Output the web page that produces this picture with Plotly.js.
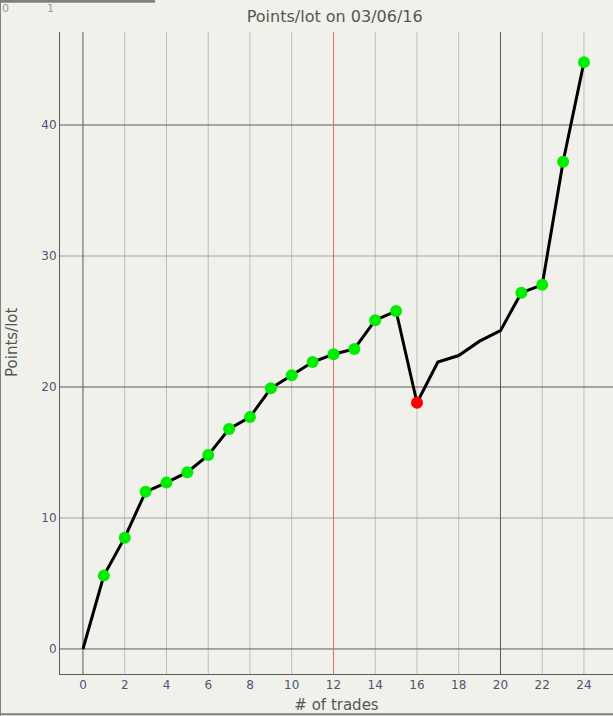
<!DOCTYPE html>
<html>
<head>
<meta charset="utf-8">
<script src="https://cdn.plot.ly/plotly-3.0.1.min.js"></script>
<style>html,body{margin:0;padding:0;background:#f1f1ec;}#chart{width:613px;height:716px;}</style>
</head>
<body>
<div id="chart"></div>
<script>
// Data
const trades = [0,1,2,3,4,5,6,7,8,9,10,11,12,13,14,15,16,17,18,19,20,21,22,23,24];
const pointsPerLot = [0,5.6,8.5,12.0,12.7,13.5,14.8,16.8,17.7,19.9,20.9,21.9,22.5,22.9,25.1,25.8,18.8,21.9,22.4,23.5,24.3,27.2,27.8,37.2,44.8];
// marker class per trade: "up", "down" or "" (no marker)
const markerKind = ["","up","up","up","up","up","up","up","up","up","up","up","up","up","up","up","down","","","","","up","up","up","up"];
const xTicks = [0,2,4,6,8,10,12,14,16,18,20,22,24];
const yTicks = [0,10,20,30,40];
const majorX = [0,20];
const majorY = [0,20,40];
const markerLineX = 12;
const titleText = "Points/lot on 03/06/16";
const xTitle = "# of trades";
const yTitle = "Points/lot";

const upX=[],upY=[],dnX=[],dnY=[];
trades.forEach((t,i)=>{
  if(markerKind[i]==="up"){upX.push(t);upY.push(pointsPerLot[i]);}
  else if(markerKind[i]==="down"){dnX.push(t);dnY.push(pointsPerLot[i]);}
});

const font = "Tahoma, 'DejaVu Sans', sans-serif";
const traces = [
  {x:trades,y:pointsPerLot,mode:"lines",line:{color:"#000",width:3},hoverinfo:"skip",showlegend:false},
  {x:upX,y:upY,mode:"markers",marker:{color:"#00ee00",size:12},showlegend:false},
  {x:dnX,y:dnY,mode:"markers",marker:{color:"#ff0000",size:12},showlegend:false}
];

const shapes = [];
const minorX = xTicks.filter(v=>!majorX.includes(v) && v!==markerLineX);
const minorY = yTicks.filter(v=>!majorY.includes(v));
minorX.forEach(v=>shapes.push({type:"line",xref:"x",yref:"paper",x0:v,x1:v,y0:0,y1:1,line:{color:"#bdbdbd",width:1},layer:"below"}));
minorY.forEach(v=>shapes.push({type:"line",xref:"paper",yref:"y",x0:0,x1:1,y0:v,y1:v,line:{color:"#a0a0a0",width:1},layer:"below"}));
majorX.forEach(v=>shapes.push({type:"line",xref:"x",yref:"paper",x0:v,x1:v,y0:0,y1:1,line:{color:"#5a5a5a",width:1},layer:"below"}));
majorY.forEach(v=>shapes.push({type:"line",xref:"paper",yref:"y",x0:0,x1:1,y0:v,y1:v,line:{color:"#5a5a5a",width:1},layer:"below"}));
shapes.push({type:"line",xref:"x",yref:"paper",x0:markerLineX,x1:markerLineX,y0:0,y1:1,line:{color:"#e06a6a",width:1},layer:"below"});
// frame pieces
shapes.push({type:"line",xref:"paper",yref:"paper",x0:-0.1085,x1:-0.1085,y0:-0.066,y1:1.05,line:{color:"#808080",width:2}});
shapes.push({type:"line",xref:"paper",yref:"paper",x0:-0.11,x1:1.0,y0:-0.0625,y1:-0.0625,line:{color:"#808080",width:2}});
shapes.push({type:"line",xref:"paper",yref:"paper",x0:-0.11,x1:0.172,y0:1.048,y1:1.048,line:{color:"#808080",width:3}});

const layout = {
  width:613,height:716,
  paper_bgcolor:"#f1f1ec",plot_bgcolor:"#f1f1ec",
  margin:{l:60,r:0,t:32,b:42},
  title:{text:titleText,font:{family:font,size:16,color:"#555555"},x:0.546,xanchor:"center",y:0.977,yanchor:"middle"},
  xaxis:{range:[-1.1,25.39],tickvals:xTicks,ticktext:xTicks.map(String),showgrid:false,
    zeroline:false,showline:true,linecolor:"#5a5a5a",linewidth:1,ticks:"",tickfont:{family:font,size:12,color:"#4f5470"},
    title:{text:xTitle,font:{family:font,size:15,color:"#555555"},standoff:8},fixedrange:true},
  yaxis:{range:[-1.91,47.1],tickvals:yTicks,ticktext:yTicks.map(String),showgrid:false,
    zeroline:false,showline:true,linecolor:"#5a5a5a",linewidth:1,ticks:"",tickfont:{family:font,size:12,color:"#4f5470"},fixedrange:true},
  shapes:shapes,
  annotations:[
    {text:yTitle,xref:"paper",yref:"paper",x:-0.087,y:0.517,textangle:-90,showarrow:false,font:{family:font,size:15,color:"#555555"},xanchor:"center",yanchor:"middle"},
    {text:"0",xref:"paper",yref:"paper",x:-0.1085,y:1.036,showarrow:false,font:{family:font,size:11,color:"#9a9aa8"},xanchor:"left",yanchor:"middle"},
    {text:"1",xref:"paper",yref:"paper",x:-0.0165,y:1.036,showarrow:false,font:{family:font,size:11,color:"#9a9aa8"},xanchor:"center",yanchor:"middle"}
  ],
  showlegend:false
};
Plotly.newPlot("chart",traces,layout,{displayModeBar:false,staticPlot:true});
</script>
</body>
</html>
